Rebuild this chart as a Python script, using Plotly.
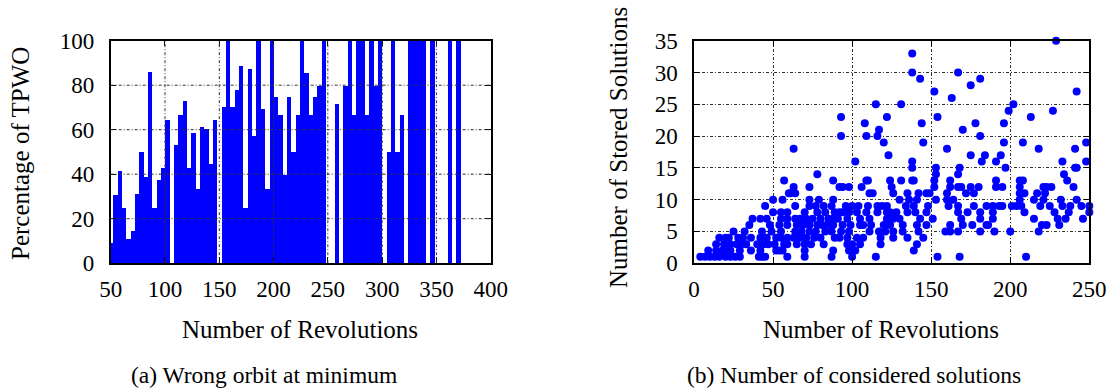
import plotly.graph_objects as go

# ---------------- Data ----------------
# (a) percentage of TPWO per revolution bin (bins of 4 revolutions)
rev_bins = [50, 54, 58, 62, 66, 70, 74, 78, 82, 86, 90, 94, 98, 102, 106, 110, 114, 118,
            122, 126, 130, 134, 138, 142, 146, 150, 154, 158, 162, 166, 170, 174, 178, 182,
            186, 190, 194, 198, 202, 206, 210, 214, 218, 222, 226, 230, 234, 238, 242, 246,
            250, 254, 258, 262, 266, 270, 274, 278, 282, 286, 290, 294, 298, 302, 306, 310,
            314, 318, 322, 326, 330, 334, 338, 342, 346, 350, 354, 358, 362, 366, 370]
pct_tpwo = [9.3, 30.8, 41.8, 25, 11, 14.4, 31.3, 50, 38.8, 85.9, 25, 37.4, 43, 64.4, 0, 53.4,
            66.7, 72.9, 43, 58.5, 33.3, 61.5, 60.3, 44.8, 64.4, 0, 70.2, 100, 70.2, 77.8, 88.9,
            25, 87.5, 57.1, 100, 69.3, 33.3, 100, 75, 66.7, 40, 75, 50, 66.7, 100, 85.7, 66.7,
            75, 80, 100, 0, 0, 71.6, 0, 80, 100, 66.7, 100, 100, 66.7, 100, 80, 100, 0, 50,
            100, 50, 66.7, 0, 100, 100, 100, 100, 0, 100, 0, 0, 0, 100, 0, 100]

# (b) number of stored solutions vs revolutions
stored_levels = [1, 2, 3, 4, 5, 6, 7, 8, 9, 10, 11, 12, 13, 14, 15, 16, 17, 18, 19, 20, 21,
                 22, 23, 24, 25, 26, 27, 28, 29, 30, 33, 35]
revs_at_level = [
    [4, 7, 10, 13, 16, 20, 23, 26, 29, 41, 43, 45, 59, 70, 87, 100, 115, 154, 168, 210],
    [9, 14, 18, 21, 23, 29, 36, 42, 52, 54, 56, 70, 88, 98, 102, 139],
    [14, 19, 23, 27, 30, 33, 40, 44, 47, 51, 57, 59, 65, 70, 74, 82, 97, 100, 105, 118, 141],
    [16, 20, 22, 28, 31, 36, 42, 46, 52, 55, 59, 63, 67, 71, 76, 80, 89, 92, 97, 103, 107,
     118, 126, 135, 145],
    [25, 32, 43, 49, 55, 64, 68, 73, 77, 83, 87, 93, 98, 111, 117, 121, 126, 132, 142, 159,
     162, 167, 181, 190, 200, 218],
    [35, 48, 54, 59, 65, 69, 73, 78, 81, 84, 88, 94, 99, 105, 107, 112, 120, 124, 132, 141,
     147, 162, 170, 176, 185, 186, 220, 223, 231],
    [37, 42, 46, 55, 59, 64, 67, 71, 75, 80, 85, 88, 91, 97, 105, 111, 122, 126, 130, 143,
     151, 169, 181, 189, 215, 230, 235, 246],
    [50, 55, 59, 70, 78, 83, 89, 92, 94, 98, 103, 109, 116, 122, 124, 128, 135, 140, 147,
     167, 173, 181, 189, 209, 228, 237, 250],
    [45, 64, 73, 77, 82, 87, 96, 100, 104, 110, 116, 119, 122, 134, 139, 148, 161, 167, 177,
     185, 189, 193, 195, 201, 204, 207, 219, 225, 233, 238, 245, 250],
    [50, 56, 73, 79, 88, 130, 136, 141, 153, 160, 164, 206, 215, 221, 232, 242],
    [60, 61, 64, 111, 113, 126, 135, 142, 147, 149, 160, 172, 177, 206, 209, 217, 222],
    [63, 73, 92, 94, 98, 106, 125, 152, 162, 167, 169, 175, 180, 191, 195, 206, 221, 223,
     226, 240],
    [57, 88, 109, 110, 124, 131, 138, 139, 152, 162, 191, 206, 208, 236],
    [78, 153, 167, 234],
    [138, 153, 168, 197, 241, 242],
    [102, 138, 182, 191, 233, 248],
    [123, 175, 184, 194],
    [63, 160, 218, 241],
    [120, 145, 196, 208, 248],
    [93, 109, 116, 181],
    [117, 170],
    [108, 144, 178, 196],
    [93, 122, 154, 213],
    [199, 227],
    [115, 131, 202],
    [163],
    [152, 242],
    [175],
    [143, 181],
    [138, 167],
    [138],
    [229],
]

left_xticks = [50, 100, 150, 200, 250, 300, 350, 400]
left_yticks = [0, 20, 40, 60, 80, 100]
right_xticks = [0, 50, 100, 150, 200, 250]
right_yticks = [0, 5, 10, 15, 20, 25, 30, 35]

stored_x = []
stored_y = []
for lvl, revs in zip(stored_levels, revs_at_level):
    for r in revs:
        stored_x.append(r)
        stored_y.append(lvl)

# ---------------- Figure ----------------
W, H = 1114, 389
FONT = "Liberation Serif, Times New Roman, DejaVu Serif, serif"
BLUE = "#0000ff"

fig = go.Figure()
fig.add_trace(go.Bar(x=rev_bins, y=pct_tpwo, width=4, marker=dict(color=BLUE, line=dict(width=0)),
                     xaxis="x", yaxis="y", showlegend=False))
fig.add_trace(go.Scatter(x=stored_x, y=stored_y, mode="markers",
                         marker=dict(color=BLUE, size=8, line=dict(width=0)),
                         cliponaxis=False, xaxis="x2", yaxis="y2", showlegend=False))

ydom = [1 - 263.2 / H, 1 - 40.7 / H]
axis_common = dict(showline=True, linecolor="black", linewidth=1.5, mirror="ticks",
                   ticks="inside", ticklen=6, tickcolor="black", tickwidth=1,
                   tickfont=dict(family=FONT, size=23, color="black"), zeroline=False,
                   automargin=False)
grid_style = dict(showgrid=True, gridcolor="#333333", gridwidth=1, griddash="3px,2px,1px,2px")

fig.update_layout(
    width=W, height=H, margin=dict(l=0, r=0, t=0, b=0, pad=0, autoexpand=False),
    paper_bgcolor="white", plot_bgcolor="white", bargap=0,
    xaxis=dict(domain=[110.7 / W, 490.7 / W], range=[50, 400], tickvals=left_xticks,
               showgrid=False, anchor="y", ticklabelstandoff=4, **axis_common),
    yaxis=dict(domain=ydom, range=[0, 100], tickvals=left_yticks, showgrid=False,
               anchor="x", ticklabelstandoff=10, **axis_common),
    xaxis2=dict(domain=[694 / W, 1089.3 / W], range=[0, 250], tickvals=right_xticks,
                anchor="y2", ticklabelstandoff=4, **grid_style, **axis_common),
    yaxis2=dict(domain=ydom, range=[0, 35], tickvals=right_yticks, anchor="x2",
                ticklabelstandoff=10, **grid_style, **axis_common),
)

# grid lines drawn above the bars (left panel)
shapes = []
for xv in left_xticks[1:-1]:
    shapes.append(dict(type="line", xref="x", yref="y", x0=xv, x1=xv, y0=0, y1=100,
                       layer="above", line=dict(color="#333333", width=1, dash="3px,2px,1px,2px")))
for yv in left_yticks[1:-1]:
    shapes.append(dict(type="line", xref="x", yref="y", x0=50, x1=400, y0=yv, y1=yv,
                       layer="above", line=dict(color="#333333", width=1, dash="3px,2px,1px,2px")))
fig.update_layout(shapes=shapes)

def ann(text, X, Y, size, angle=0):
    return dict(text=text, x=X / W, y=1 - Y / H, xref="paper", yref="paper",
                xanchor="center", yanchor="middle", showarrow=False, textangle=angle,
                font=dict(family=FONT, size=size, color="black"))

fig.update_layout(annotations=[
    ann("Percentage of TPWO", 20, 154, 25, -90),
    ann("Number of Revolutions", 300, 329, 25),
    ann("(a) Wrong orbit at minimum", 264, 375, 23.5),
    ann("Number of Stored Solutions", 618, 148, 25, -90),
    ann("Number of Revolutions", 880.5, 329, 25),
    ann("(b) Number of considered solutions", 853.8, 375, 23.5),
])

fig.write_html("out.html")
